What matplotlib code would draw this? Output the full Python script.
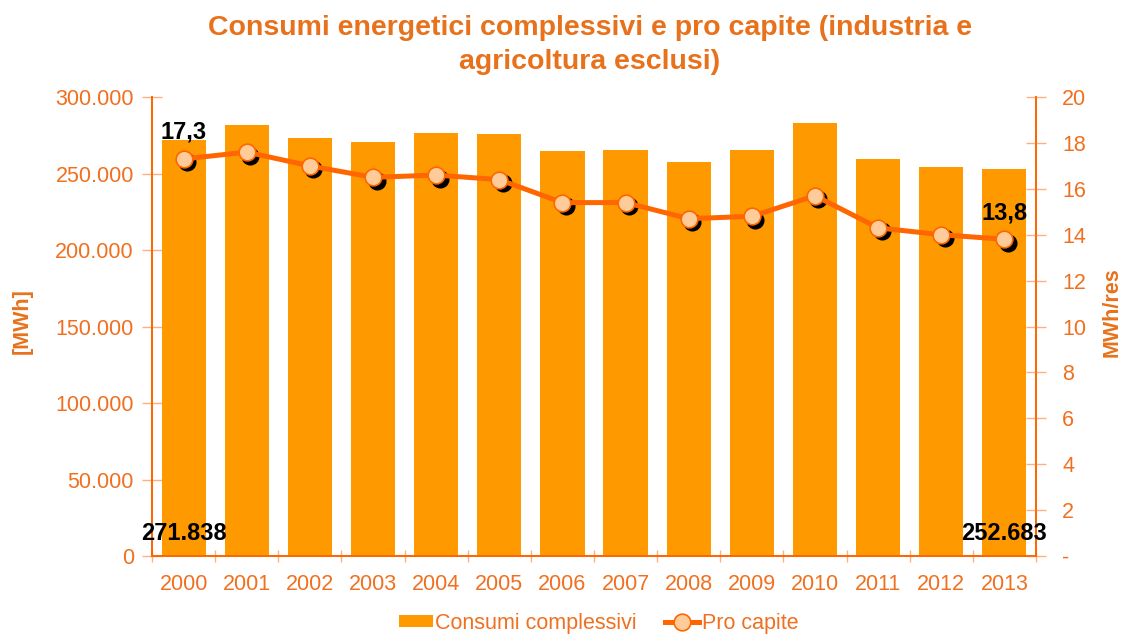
import matplotlib
matplotlib.use("Agg")
import matplotlib.pyplot as plt
import matplotlib.transforms as mtransforms
from matplotlib.ticker import FuncFormatter, FixedLocator
import numpy as np

years = ["2000", "2001", "2002", "2003", "2004", "2005", "2006",
         "2007", "2008", "2009", "2010", "2011", "2012", "2013"]
consumi = [271838, 282000, 273400, 270400, 276300, 275800, 264700,
           265500, 257500, 265200, 283300, 259300, 254200, 252683]
pro_capite = [17.3, 17.6, 17.0, 16.5, 16.6, 16.4, 15.4,
              15.4, 14.7, 14.8, 15.7, 14.3, 14.0, 13.8]

title_lines = ["Consumi energetici complessivi e pro capite (industria e",
               "agricoltura esclusi)"]
ylabel_left = "[MWh]"
ylabel_right = "MWh/res"
legend_labels = ["Consumi complessivi", "Pro capite"]

ORANGE_TXT = "#F07020"
TITLE_C = "#E8721C"
AXIS = "#FF6600"
TICKC = "#FFB080"
BAR = "#FF9900"
LINE = "#FF6600"
FACE = "#FFCC99"

plt.rcParams["font.family"] = ["Liberation Sans", "DejaVu Sans"]

fig = plt.figure(figsize=(11.23, 6.35), dpi=100)
ax = fig.add_axes([0.1354, 0.1244, 0.7871, 0.7228])
ax2 = ax.twinx()

x = np.arange(len(years))
bars = ax.bar(x, consumi, width=0.7, color=BAR, zorder=2, label=legend_labels[0])
ax.set_xlim(-0.5, len(years) - 0.5)
ax.set_ylim(0, 300000)
ax.set_yticks(np.arange(0, 300001, 50000))
ax.yaxis.set_major_formatter(FuncFormatter(lambda v, p: f"{int(v):,}".replace(",", ".")))
ax.set_xticks(x)
ax.set_xticklabels(years)
ax.xaxis.set_minor_locator(FixedLocator(np.arange(-0.5, len(years), 1.0)))
ax.tick_params(axis="x", which="major", length=0, labelsize=15.5, labelcolor=ORANGE_TXT, pad=13)
ax.tick_params(axis="x", which="minor", length=8, color=TICKC, direction="inout", width=1)
ax.tick_params(axis="y", length=14, color=TICKC, direction="inout", labelsize=15.5,
               labelcolor=ORANGE_TXT, pad=6, width=1)

ax2.set_ylim(0, 20)
ax2.set_yticks(np.arange(0, 21, 2))
ax2.yaxis.set_major_formatter(FuncFormatter(lambda v, p: "-" if v == 0 else f"{int(v)}"))
ax2.tick_params(axis="y", length=14, color=TICKC, direction="inout", labelsize=15.5,
                labelcolor=ORANGE_TXT, pad=12, width=1)

for a in (ax, ax2):
    a.spines["top"].set_visible(False)
    for s in ("left", "right", "bottom"):
        a.spines[s].set_color(AXIS)
        a.spines[s].set_linewidth(1.3)

# marker shadow
shadow = mtransforms.offset_copy(ax2.transData, fig=fig, x=2.5, y=-2.5, units="points")
ax2.plot(x, pro_capite, linestyle="none", marker="o", markersize=12,
         markerfacecolor="black", markeredgecolor="black", transform=shadow, zorder=3)
line, = ax2.plot(x, pro_capite, color=LINE, linewidth=3.6, marker="o", markersize=12,
                 markerfacecolor=FACE, markeredgecolor=LINE, markeredgewidth=1.2,
                 zorder=4, label=legend_labels[1])

# data labels
lab = dict(fontsize=17, fontweight="bold", color="black", zorder=6)
ax2.annotate(f"{pro_capite[0]:.1f}".replace(".", ","), (x[0], pro_capite[0]),
             xytext=(0, 11), textcoords="offset points", ha="center", va="bottom", **lab)
ax2.annotate(f"{pro_capite[-1]:.1f}".replace(".", ","), (x[-1], pro_capite[-1]),
             xytext=(0, 11), textcoords="offset points", ha="center", va="bottom", **lab)
ax2.annotate(f"{consumi[0]:,}".replace(",", "."), (x[0], 0),
             xytext=(0, 8), textcoords="offset points", ha="center", va="bottom", **lab)
ax2.annotate(f"{consumi[-1]:,}".replace(",", "."), (x[-1], 0),
             xytext=(0, 8), textcoords="offset points", ha="center", va="bottom", **lab)

fig.text(22 / 1123, 1 - 321 / 635, ylabel_left, rotation=90, ha="center", va="center",
         fontsize=15.5, fontweight="bold", color=TITLE_C)
fig.text(1112 / 1123, 1 - 312 / 635, ylabel_right, rotation=90, ha="center", va="center",
         fontsize=15.5, fontweight="bold", color=TITLE_C)

fig.text(0.525, 1 - 28 / 635, title_lines[0], ha="center", va="center", fontsize=20.5,
         fontweight="bold", color=TITLE_C)
fig.text(0.525, 1 - 62 / 635, title_lines[1], ha="center", va="center", fontsize=20.5,
         fontweight="bold", color=TITLE_C)

leg = fig.legend([bars, line], legend_labels, loc="center", bbox_to_anchor=(0.533, 1 - 623 / 635),
                 ncol=2, frameon=False, fontsize=15.5, handlelength=1.6, handleheight=0.5,
                 handletextpad=0.1, columnspacing=1.3, borderpad=0)
for t in leg.get_texts():
    t.set_color(ORANGE_TXT)

fig.savefig("out.png", dpi=100)
